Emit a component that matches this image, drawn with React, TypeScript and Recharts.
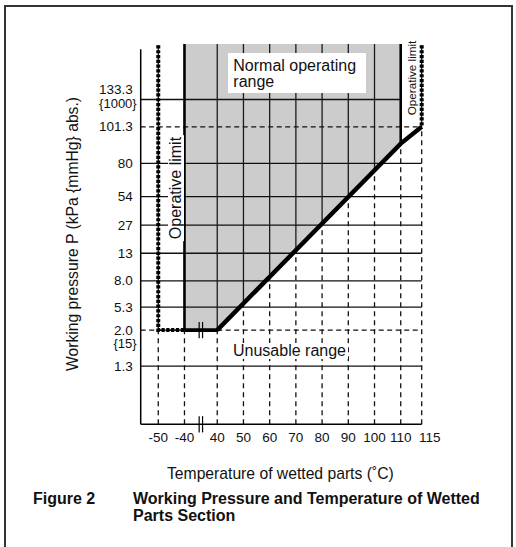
import { ComposedChart, Area, Line, XAxis, YAxis, ReferenceLine } from 'recharts';

const tempLabels = ['-50', '-40', '40', '50', '60', '70', '80', '90', '100', '110', '115'];
// where each graduation sits on the broken temperature scale (1 step = 10 ˚C)
const tempSteps = [0, 1, 2.25, 3.25, 4.25, 5.25, 6.25, 7.25, 8.25, 9.25, 10.05];

const pressureLabels = ['1.3', '2.0', '5.3', '8.0', '13', '27', '54', '80', '101.3', '133.3'];
const pressureMmHg: Record<string, string> = { '2.0': '{15}', '133.3': '{1000}' };
// graduation rows of the non-uniform pressure scale
const pressureSteps = [2.15, 3.48, 4.33, 5.3, 6.32, 7.36, 8.41, 9.64, 10.99, 12.0];

// lower edge of the operating range (temperature -> pressure row)
const limitTemps = ['40', '110', '115'];
const limitRows = [3.48, 10.37, 10.99];

const X_MIN = -0.67;
const X_MAX = 10.05;
const Y_TOP = 14.05;
const AXIS_TOP = 13.86;
const DOT_TOP = 14.0;

const FONT = '"Liberation Sans", Arial, Helvetica, sans-serif';

const T = (l: string) => tempSteps[tempLabels.indexOf(l)];
const P = (l: string) => pressureSteps[pressureLabels.indexOf(l)];

function limitAt(x: number) {
  const xs = limitTemps.map(T);
  for (let i = 0; i < xs.length - 1; i++) {
    if (x >= xs[i] && x <= xs[i + 1]) {
      const f = (x - xs[i]) / (xs[i + 1] - xs[i]);
      return limitRows[i] + f * (limitRows[i + 1] - limitRows[i]);
    }
  }
  return limitRows[limitRows.length - 1];
}

type Pt = { x: number; y: number };
type Seg = { key: string; pts: Pt[]; color: string; width: number; dash?: string };

const segs: Seg[] = [];

// horizontal grid
pressureLabels.forEach((l) => {
  const dashed = l === '2.0' || l === '101.3';
  const end = l === '133.3' ? T('110') : T('115');
  segs.push({
    key: 'h' + l,
    pts: [{ x: X_MIN, y: P(l) }, { x: end, y: P(l) }],
    color: '#111',
    width: 1.3,
    dash: dashed ? '5 3.5' : undefined,
  });
});

// vertical grid
tempLabels.forEach((l) => {
  const x = T(l);
  let lower: number;
  if (l === '-50' || l === '-40') lower = P('2.0');
  else if (l === '115') lower = P('101.3');
  else lower = limitAt(x);
  segs.push({ key: 'vd' + l, pts: [{ x, y: 0 }, { x, y: lower }], color: '#111', width: 1.3, dash: '5 4' });
  if (!['-50', '-40', '110', '115'].includes(l)) {
    segs.push({ key: 'vs' + l, pts: [{ x, y: lower }, { x, y: Y_TOP }], color: '#1a1a1a', width: 1.3 });
  }
});

// axes
segs.push({ key: 'yaxis', pts: [{ x: X_MIN, y: 0 }, { x: X_MIN, y: AXIS_TOP }], color: '#000', width: 1.5 });
segs.push({ key: 'xaxis', pts: [{ x: X_MIN, y: 0 }, { x: X_MAX, y: 0 }], color: '#000', width: 1.5 });

// limit lines
segs.push({ key: 'l40', pts: [{ x: T('-40'), y: P('2.0') }, { x: T('-40'), y: Y_TOP }], color: '#000', width: 2.6 });
segs.push({ key: 'l110', pts: [{ x: T('110'), y: limitAt(T('110')) }, { x: T('110'), y: Y_TOP }], color: '#000', width: 2.6 });
segs.push({ key: 'base', pts: [{ x: T('-40'), y: P('2.0') }, { x: T('40'), y: P('2.0') }], color: '#000', width: 3.8 });
segs.push({ key: 'diag', pts: limitTemps.map((t, i) => ({ x: T(t), y: limitRows[i] })), color: '#000', width: 4.4 });

const dotLeft = [{ x: T('-50'), y: DOT_TOP }, { x: T('-50'), y: P('2.0') }, { x: T('-40'), y: P('2.0') }];
const dotRight = [{ x: T('115'), y: DOT_TOP }, { x: T('115'), y: P('101.3') }];
[dotLeft, dotRight].forEach((pts, i) => {
  segs.push({ key: 'dt' + i, pts, color: '#000', width: 1.2 });
  segs.push({ key: 'dd' + i, pts, color: '#000', width: 4, dash: '3.2 1.6' });
});

// axis break marks
const brk = (T('-40') + T('40')) / 2;
const breaks: { x: number; y1: number; y2: number }[] = [];
[-0.065, 0.065].forEach((d) => {
  breaks.push({ x: brk + d, y1: -0.3, y2: 0.3 });
  breaks.push({ x: brk + d, y1: P('2.0') - 0.3, y2: P('2.0') + 0.3 });
});

const grayData = [
  { x: T('-40'), band: [P('2.0'), Y_TOP] },
  { x: T('40'), band: [P('2.0'), Y_TOP] },
  { x: T('110'), band: [limitAt(T('110')), Y_TOP] },
];

const XTick = (props: any) => {
  const { x, y, payload } = props;
  const label = tempLabels[tempSteps.indexOf(payload.value)];
  return (
    <text x={x + (label === '115' ? 8 : 0)} y={y + 13} textAnchor="middle" dominantBaseline="central"
      fontSize={13.5} fontFamily={FONT} fill="#111">
      {label}
    </text>
  );
};

const YTick = (props: any) => {
  const { x, y, payload } = props;
  const label = pressureLabels[pressureSteps.indexOf(payload.value)];
  const sub = pressureMmHg[label];
  const mainDy = label === '133.3' ? -9.5 : 0;
  const subDy = label === '133.3' ? 4 : 13.5;
  return (
    <g>
      <text x={x - 8} y={y + mainDy} textAnchor="end" dominantBaseline="central" fontSize={13.5} fontFamily={FONT} fill="#111">
        {label}
      </text>
      {sub && (
        <text x={x - 4} y={y + subDy} textAnchor="end" dominantBaseline="central" fontSize={13} fontFamily={FONT} fill="#111">
          {sub}
        </text>
      )}
    </g>
  );
};

const abs = (left: number, top: number, extra: any = {}) => ({
  position: 'absolute' as const,
  left,
  top,
  whiteSpace: 'nowrap' as const,
  ...extra,
});

const rotated = (cx: number, cy: number, size: number, bg?: string) =>
  abs(cx, cy, { fontSize: size, transform: 'translate(-50%, -50%) rotate(-90deg)', lineHeight: 1, background: bg, padding: bg ? '0 2px' : 0 });

export default function App() {
  return (
    <div style={{ position: 'absolute', left: 0, top: 0, width: 516, height: 547, background: '#fff', fontFamily: FONT, color: '#111', overflow: 'hidden' }}>
      <div style={{ position: 'absolute', left: 4, top: 5, width: 505, height: 560, borderLeft: '2px solid #333', borderTop: '2px solid #333', borderRight: '2px solid #333' }} />
      <ComposedChart width={516} height={547} data={grayData} margin={{ top: 44, right: 94.3, bottom: 92.7, left: 80.7 }}>
        <XAxis type="number" dataKey="x" domain={[X_MIN, X_MAX]} ticks={tempSteps} interval={0}
          axisLine={false} tickLine={false} tickSize={0} tickMargin={0} height={30} tick={(p: any) => <XTick {...p} />} />
        <YAxis type="number" domain={[0, Y_TOP]} ticks={pressureSteps} interval={0}
          axisLine={false} tickLine={false} tickSize={0} tickMargin={0} width={60} tick={(p: any) => <YTick {...p} />} />
        <Area dataKey="band" type="linear" stroke="none" fill="#cccccc" fillOpacity={1} isAnimationActive={false} />
        {segs.map((s) => (
          <Line key={s.key} data={s.pts} dataKey="y" type="linear" stroke={s.color} strokeWidth={s.width}
            strokeDasharray={s.dash} dot={false} activeDot={false} isAnimationActive={false} legendType="none" />
        ))}
        {breaks.map((b, i) => (
          <ReferenceLine key={'b' + i} segment={[{ x: b.x, y: b.y1 }, { x: b.x, y: b.y2 }]}
            stroke="#000" strokeWidth={1.2} ifOverflow="visible" />
        ))}
      </ComposedChart>

      <div style={abs(228.3, 53.3, { width: 137.7, height: 39.4, background: '#fff', boxSizing: 'border-box', padding: '4.8px 0 0 5px', fontSize: 16, lineHeight: '15.7px' })}>
        Normal operating<br />range
      </div>
      <div style={abs(231, 343, { fontSize: 16, lineHeight: '16px', background: '#fff', padding: '0 2px' })}>Unusable range</div>
      <div style={rotated(176, 188, 16, '#fff')}>Operative limit</div>
      <div style={rotated(412, 77.5, 11.7)}>Operative limit</div>
      <div style={rotated(73, 234, 15.7)}>Working pressure P (kPa {'{mmHg}'} abs.)</div>
      <div style={abs(167, 466, { fontSize: 15.7, lineHeight: '16px' })}>Temperature of wetted parts (˚C)</div>
      <div style={abs(33, 491, { fontSize: 16, fontWeight: 'bold', lineHeight: '16.5px' })}>Figure 2</div>
      <div style={abs(133, 491, { fontSize: 16, fontWeight: 'bold', lineHeight: '16.5px' })}>
        Working Pressure and Temperature of Wetted<br />Parts Section
      </div>
    </div>
  );
}
